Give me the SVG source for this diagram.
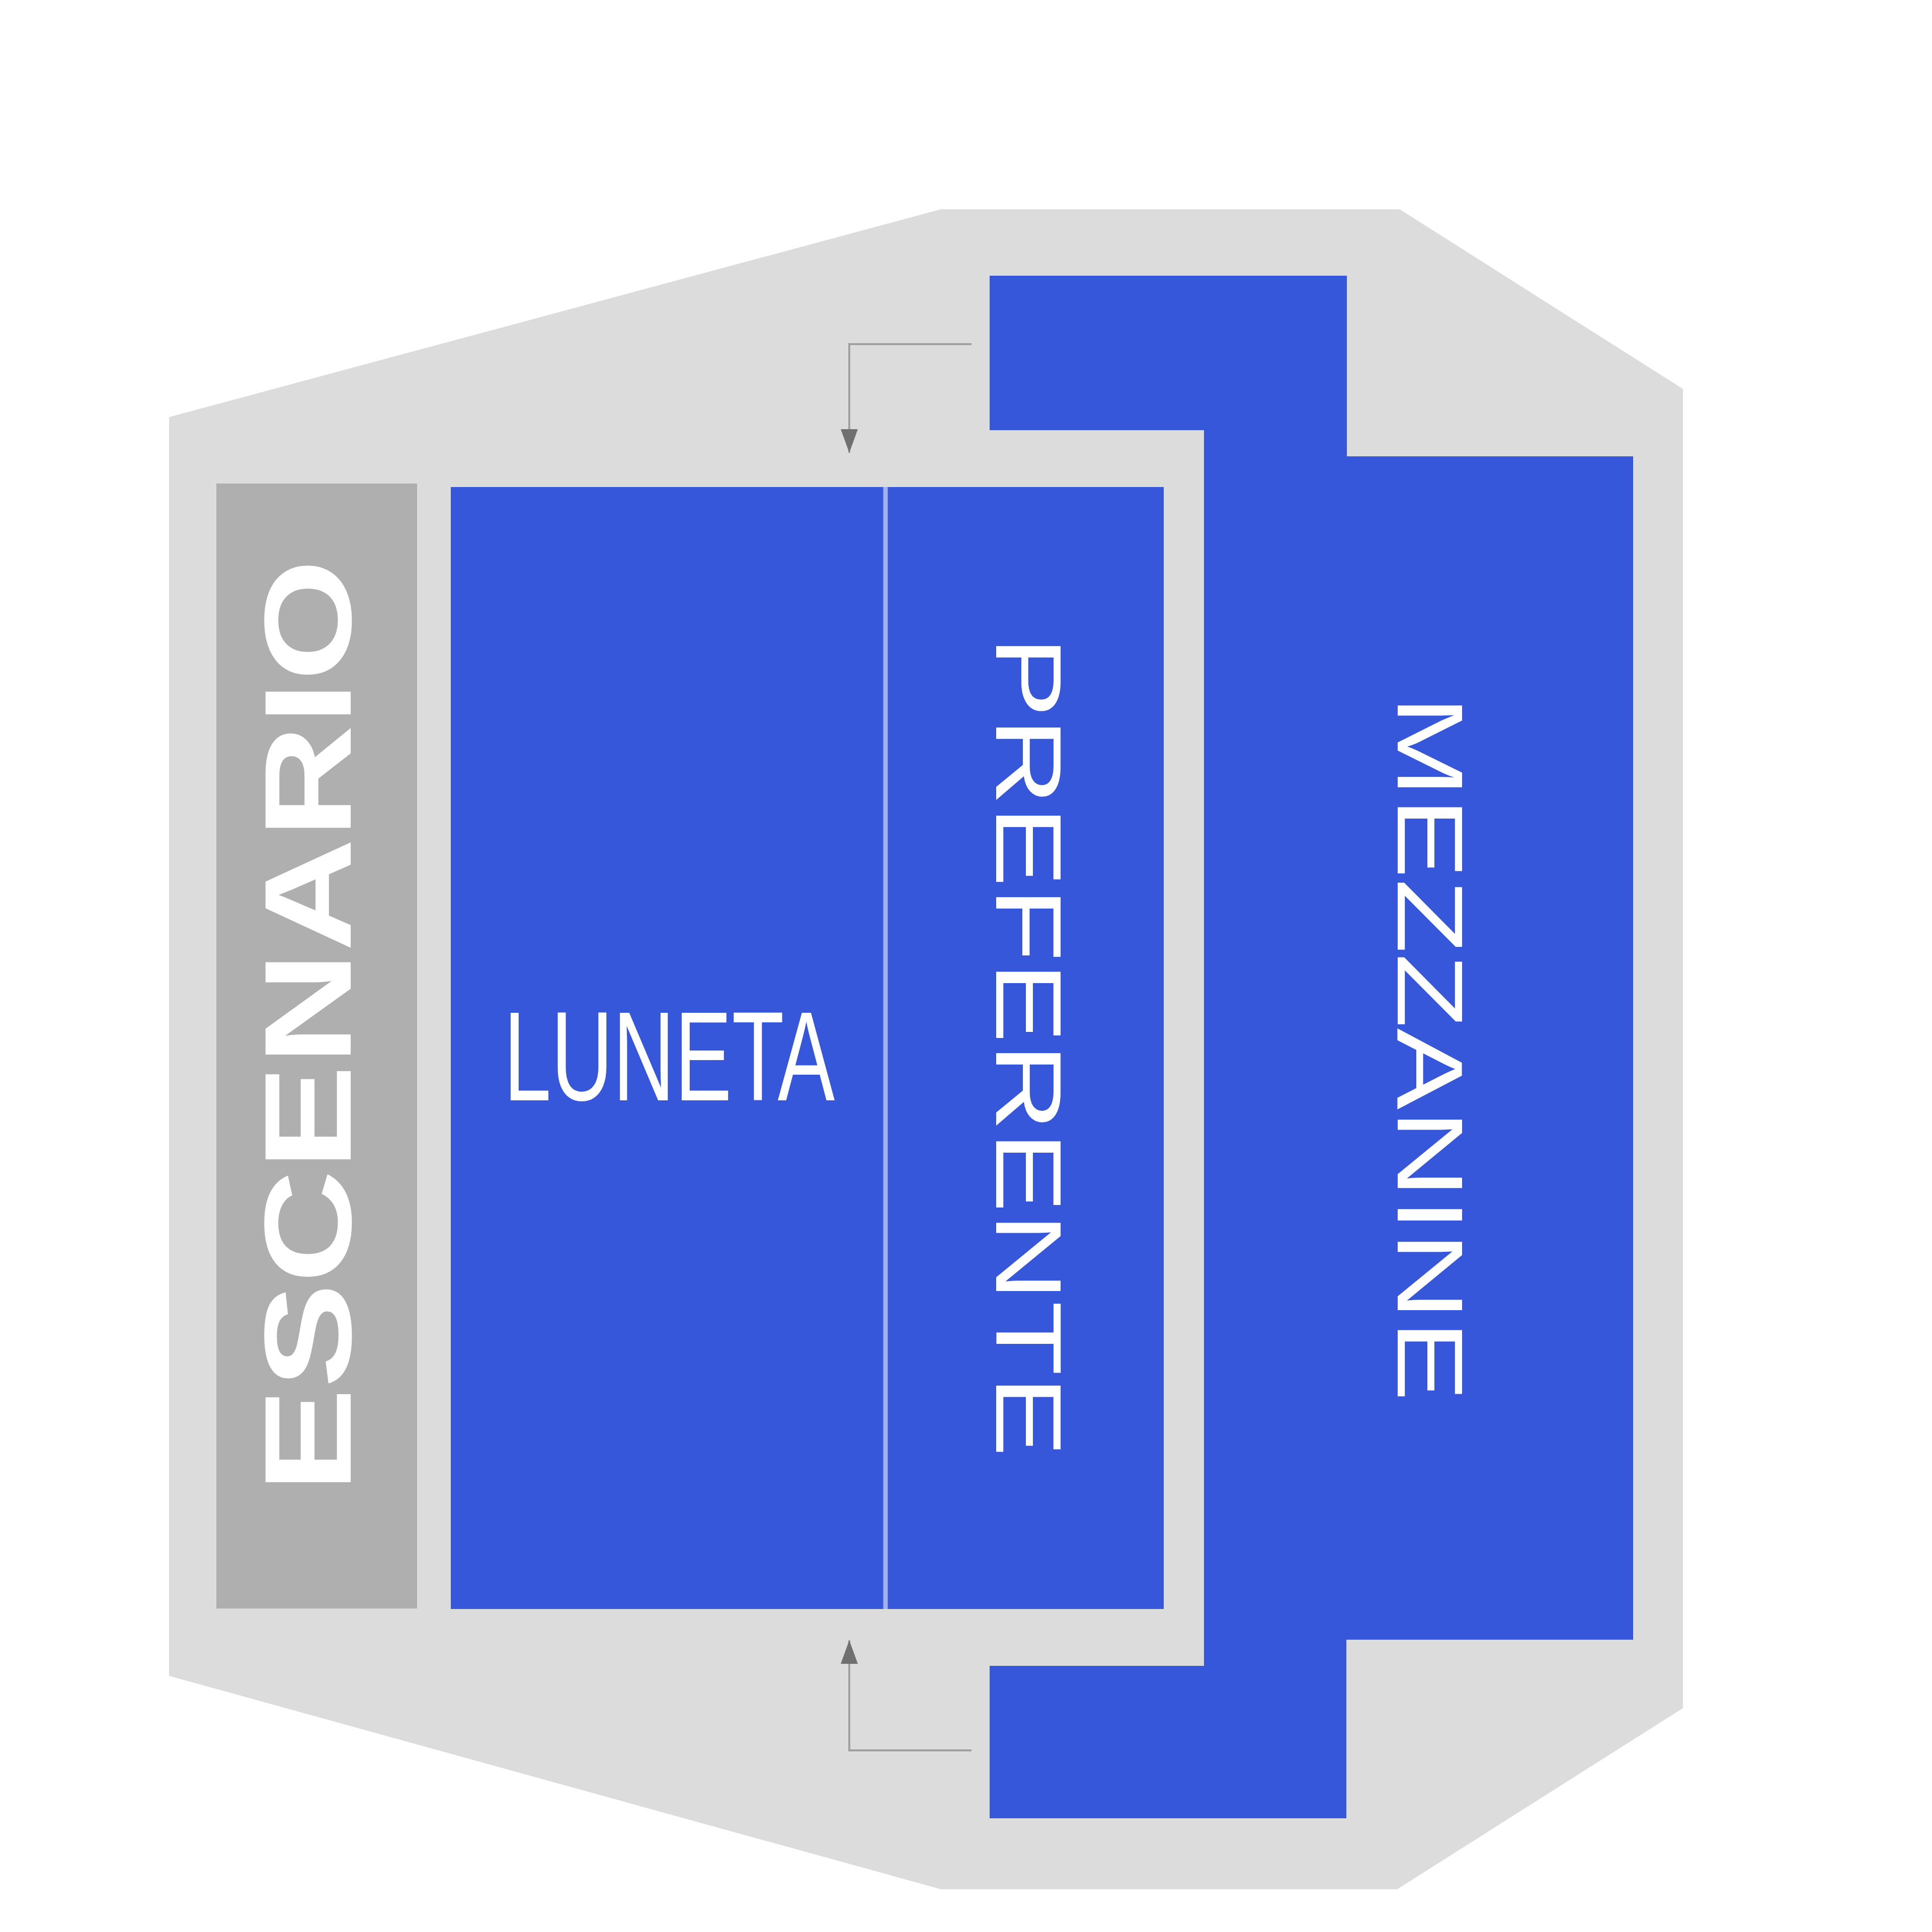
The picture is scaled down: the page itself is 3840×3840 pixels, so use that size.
<svg xmlns="http://www.w3.org/2000/svg" width="3840" height="3840" viewBox="0 0 3840 3840">
<style>
.zone{fill:#3757db;}
.lbl{fill:#ffffff;font-family:"Liberation Sans",Arial,sans-serif;text-anchor:middle;}
.conn{fill:none;stroke:#a0a0a0;stroke-width:4;}
</style>
<defs>
<marker id="ah" viewBox="0 0 47 34" refX="47" refY="17" markerWidth="47" markerHeight="34" markerUnits="userSpaceOnUse" orient="auto">
<path d="M0,0 L47,17 L0,34 Z" fill="#707070"/>
</marker>
</defs>
<rect x="0" y="0" width="3840" height="3840" fill="#ffffff"/>
<g id="venue">
<polygon points="1870,416 2782,416 3345,773 3345,3395 2777,3755 1870,3755 336,3331 336,829" fill="#dcdcdc"/>
</g>
<g id="escenario">
<rect x="430" y="961" width="399" height="2236" fill="#afafaf"/>
<text class="lbl" transform="translate(697,2039) rotate(-90) scale(1.269,1)" font-size="246" font-weight="bold">ESCENARIO</text>
</g>
<g id="luneta">
<rect class="zone" x="896" y="968" width="862" height="2230"/>
<text class="lbl" transform="translate(1330,2187) scale(0.672,1)" font-size="253">LUNETA</text>
</g>
<g id="preferente">
<rect class="zone" x="1762" y="968" width="551" height="2230"/>
<text class="lbl" transform="translate(1980,2080) rotate(90) scale(1.312,1)" font-size="185">PREFERENTE</text>
</g>
<line x1="1760" y1="968" x2="1760" y2="3198" stroke="#a3b0ee" stroke-width="9"/>
<g id="mezzanine">
<polygon class="zone" points="1967,548 2677,548 2677,907 3246,907 3246,3259 2676,3259 2676,3614 1967,3614 1967,3311 2393,3311 2393,855 1967,855"/>
<text class="lbl" transform="translate(2778,2084) rotate(90) scale(1.306,1)" font-size="186">MEZZANINE</text>
</g>
<g id="connectors">
<path class="conn" d="M1931,684 H1688 V900" marker-end="url(#ah)"/>
<path class="conn" d="M1931,3479 H1688 V3260" marker-end="url(#ah)"/>
</g>
</svg>
